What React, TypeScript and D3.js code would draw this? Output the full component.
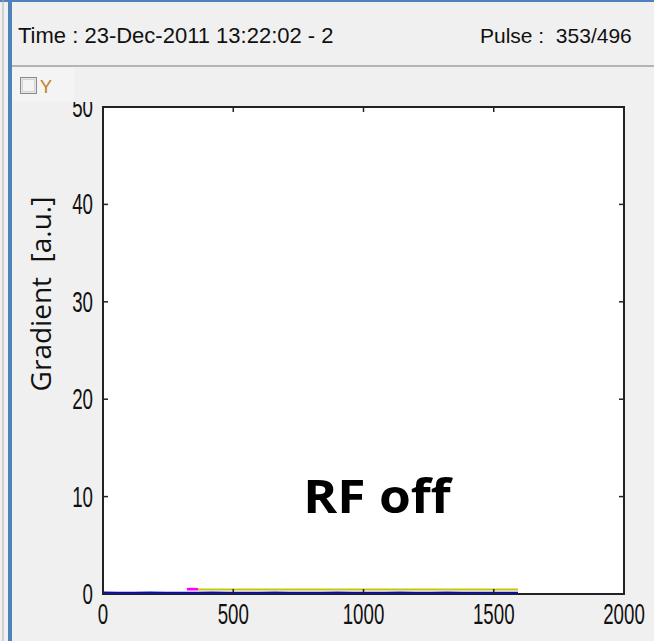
import React from "react";
import * as d3 from "d3";

const xTicks = [0, 500, 1000, 1500, 2000];
const yTicks = [0, 10, 20, 30, 40, 50];
const blueX = [0, 60, 120, 180, 240, 300, 360, 420, 480, 540, 600, 660, 720, 780, 840, 900, 960, 1020, 1080, 1140, 1200, 1260, 1320, 1380, 1440, 1500, 1560, 1593];
const blueY = [0.12, 0.11, 0.1, 0.12, 0.1, 0.11, 0.1, 0.12, 0.11, 0.1, 0.11, 0.12, 0.1, 0.11, 0.1, 0.12, 0.1, 0.11, 0.1, 0.12, 0.1, 0.11, 0.12, 0.1, 0.11, 0.1, 0.11, 0.11];
const yellowX = [365, 600, 900, 1200, 1500, 1593];
const yellowY = [0.45, 0.45, 0.46, 0.45, 0.46, 0.45];
const magentaX = [322, 340, 365];
const magentaY = [0.5, 0.52, 0.5];

export default function App() {
  const W = 654, H = 641;
  const L = 103, R = 624, T = 107, B = 594;
  const x = d3.scaleLinear().domain([0, 2000]).range([L, R]);
  const y = d3.scaleLinear().domain([0, 50]).range([B, T]);
  const line = d3.line<[number, number]>().x(d => x(d[0])).y(d => y(d[1]));
  const blue = line(blueX.map((v, i) => [v, blueY[i]]));
  const yellow = line(yellowX.map((v, i) => [v, yellowY[i]]));
  const magenta = line(magentaX.map((v, i) => [v, magentaY[i]]));
  const tickFont = "'Liberation Sans', Arial, sans-serif";
  return (
    <svg width={W} height={H} style={{ position: "absolute", left: 0, top: 0, display: "block" }}>
      <defs>
        <clipPath id="clip50">
          <rect x={60} y={102} width={50} height={40} />
        </clipPath>
      </defs>
      <rect x={0} y={0} width={W} height={H} fill="#f0f0f0" />
      <rect x={0} y={0} width={W} height={2} fill="#4f81bd" />
      <rect x={8} y={0} width={4} height={H} fill="#4f81bd" />
      <line x1={3} x2={3} y1={0} y2={H} stroke="#b0b0b0" strokeWidth={1} />
      <line x1={12} x2={W} y1={66} y2={66} stroke="#a0a0a0" strokeWidth={1.5} />
      <rect x={12} y={67.5} width={62} height={34} fill="#f4f4f4" />
      <text x={18} y={43} fontFamily={tickFont} fontSize={22} fill="#111">Time : 23-Dec-2011 13:22:02 - 2</text>
      <text x={480} y={43} fontFamily={tickFont} fontSize={21} fill="#111" xmlSpace="preserve">Pulse :  353/496</text>
      {/* checkbox */}
      <rect x={20.5} y={77.5} width={16} height={16} fill="#e6e6e6" stroke="#8a8a8a" strokeWidth={1} />
      <rect x={22.5} y={79.5} width={12} height={12} fill="#f4f4f4" stroke="#d4d4d4" strokeWidth={1} />
      <text x={40} y={93} fontFamily={tickFont} fontSize={18} fill="#c08020">Y</text>
      {/* plot */}
      <rect x={L} y={T} width={R - L} height={B - T} fill="#fff" />
      <path d={blue ?? ""} fill="none" stroke="#0000ff" strokeWidth={2.5} />
      <path d={yellow ?? ""} fill="none" stroke="#c8c800" strokeWidth={2} />
      <path d={magenta ?? ""} fill="none" stroke="#ff00ff" strokeWidth={2.5} />
      {xTicks.map(t => (
        <g key={"xt" + t}>
          <line x1={x(t)} x2={x(t)} y1={B} y2={B - 5} stroke="#222" strokeWidth={1.5} />
          <line x1={x(t)} x2={x(t)} y1={T} y2={T + 5} stroke="#222" strokeWidth={1.5} />
          <text x={x(t)} y={624} textAnchor="middle" fontFamily={tickFont} fontSize={22}
            transform={`translate(${x(t)},624) scale(0.85,1.3) translate(${-x(t)},-624)`} fill="#111">{t}</text>
        </g>
      ))}
      {yTicks.map(t => (
        <g key={"yt" + t} clipPath={t === 50 ? "url(#clip50)" : undefined}>
          <line x1={L} x2={L + 5} y1={y(t)} y2={y(t)} stroke="#222" strokeWidth={1.5} />
          <line x1={R} x2={R - 5} y1={y(t)} y2={y(t)} stroke="#222" strokeWidth={1.5} />
          <text x={93} y={y(t) + 10} textAnchor="end" fontFamily={tickFont} fontSize={22}
            transform={`translate(93,${y(t) + 10}) scale(0.85,1.3) translate(-93,${-(y(t) + 10)})`}
            fill="#111">{t}</text>
        </g>
      ))}
      <rect x={L} y={T} width={R - L} height={B - T} fill="none" stroke="#222" strokeWidth={2} />
      <line x1={R - 5} x2={R} y1={T} y2={T} stroke="#222" strokeWidth={1.5} />
      <text transform={`translate(51,294) rotate(-90)`} textAnchor="middle" fontFamily="'Open Sans', sans-serif" fontSize={28} fill="#111" xmlSpace="preserve">Gradient  [a.u.]</text>
      <text x={377} y={513} textAnchor="middle" fontFamily="'Open Sans', sans-serif" fontWeight="bold" fontSize={46} fill="#000"
        transform={`translate(377,513) scale(1.12,1) translate(-377,-513)`}>RF off</text>
    </svg>
  );
}
